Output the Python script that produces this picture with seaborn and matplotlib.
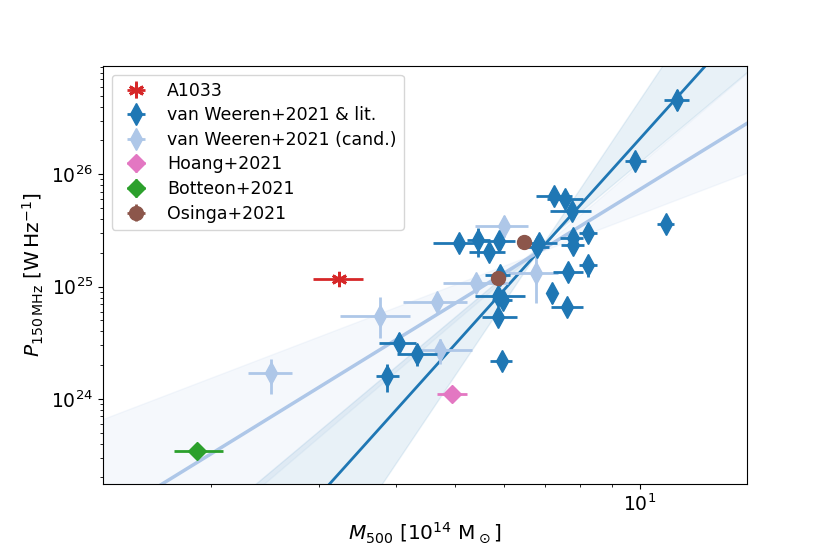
import numpy as np
import matplotlib
matplotlib.use("Agg")
import matplotlib.pyplot as plt
from matplotlib.ticker import NullFormatter
import seaborn as sns

# A1033 (this work)
a1033_m = [3.23]
a1033_m_lo = [2.93]
a1033_m_hi = [3.54]
a1033_p = [1.17e25]
a1033_p_lo = [1.12e25]
a1033_p_hi = [1.22e25]

# van Weeren+2021 & literature
vw_m = [11.48, 9.81, 7.25, 7.55, 7.74, 11.01, 5.08, 5.45, 5.89, 5.68, 6.86, 6.79, 7.79, 7.79,
        8.22, 8.22, 7.64, 5.92, 5.88, 5.99, 7.18, 7.61, 5.88, 5.96, 4.34, 4.05, 3.88]
vw_m_lo = [10.94, 9.45, 6.77, 7.05, 7.13, 10.65, 4.61, 5.22, 5.56, 5.27, 6.54, 6.50, 7.41, 7.45,
           7.96, 7.96, 7.22, 5.59, 5.39, 5.75, 7.10, 7.16, 5.52, 5.70, 4.02, 3.76, 3.72]
vw_m_hi = [12.02, 10.23, 7.74, 8.07, 8.31, 11.36, 5.49, 5.70, 6.26, 6.03, 7.32, 7.10, 8.09, 8.10,
           8.50, 8.50, 8.09, 6.14, 6.50, 6.20, 7.26, 8.09, 6.30, 6.18, 4.67, 4.31, 4.05]
vw_p = [4.57e26, 1.32e26, 6.41e25, 6.00e25, 4.75e25, 3.59e25, 2.47e25, 2.61e25, 2.55e25, 2.03e25,
        2.44e25, 2.24e25, 2.72e25, 2.35e25, 2.99e25, 1.56e25, 1.36e25, 1.27e25, 8.17e24, 7.63e24,
        8.75e24, 6.65e24, 5.42e24, 2.16e24, 2.53e24, 3.15e24, 1.61e24]
vw_p_lo = [3.73e26, 1.19e26, 5.33e25, 5.40e25, 4.20e25, 3.15e25, 2.25e25, 1.85e25, 2.20e25, 1.85e25,
           2.15e25, 2.00e25, 2.45e25, 2.10e25, 2.65e25, 1.21e25, 1.20e25, 1.12e25, 7.20e24, 6.80e24,
           7.18e24, 5.90e24, 4.60e24, 1.87e24, 1.98e24, 2.56e24, 1.15e24]
vw_p_hi = [5.61e26, 1.46e26, 7.76e25, 6.70e25, 5.35e25, 4.10e25, 2.75e25, 3.33e25, 2.90e25, 2.25e25,
           2.75e25, 2.50e25, 3.00e25, 2.60e25, 3.35e25, 1.85e25, 1.55e25, 1.42e25, 9.20e24, 8.50e24,
           1.04e25, 7.50e24, 6.30e24, 2.45e24, 3.07e24, 3.86e24, 2.06e24]

# van Weeren+2021 candidates
cand_m = [2.51, 3.77, 4.67, 5.40, 4.73, 6.00, 6.77]
cand_m_lo = [2.30, 3.25, 4.11, 4.78, 4.33, 5.39, 6.10]
cand_m_hi = [2.71, 4.22, 5.22, 6.10, 5.32, 6.56, 7.35]
cand_p = [1.72e24, 5.50e24, 7.28e24, 1.07e25, 2.74e24, 3.47e25, 1.32e25]
cand_p_lo = [1.11e24, 3.46e24, 6.60e24, 9.70e24, 2.06e24, 2.79e25, 7.18e24]
cand_p_hi = [2.28e24, 8.07e24, 8.00e24, 1.18e25, 3.44e24, 4.26e25, 1.92e25]

# Hoang+2021
hoang_m = [4.94]
hoang_m_lo = [4.67]
hoang_m_hi = [5.22]
hoang_p = [1.11e24]
hoang_p_lo = [1.05e24]
hoang_p_hi = [1.17e24]

# Botteon+2021
botteon_m = [1.90]
botteon_m_lo = [1.74]
botteon_m_hi = [2.09]
botteon_p = [3.47e23]
botteon_p_lo = [3.10e23]
botteon_p_hi = [3.90e23]

# Osinga+2021
osinga_m = [6.47, 5.87]
osinga_m_lo = [6.40, 5.80]
osinga_m_hi = [6.54, 5.94]
osinga_p = [2.49e25, 1.19e25]
osinga_p_lo = [2.40e25, 1.15e25]
osinga_p_hi = [2.58e25, 1.23e25]

# fits: log10(P) = norm + slope * log10(M / 6)
fit_slope = [6.08, 3.37]
fit_norm = [24.968, 25.118]
# band edges (two lines each)
band_dark_slope = [8.15, 4.58]
band_dark_norm = [24.851, 25.088]
band_light_slope = [2.09, 4.65]
band_light_norm = [25.180, 25.053]

M_PIVOT = 6.0


def asym(val, lo, hi):
    val = np.asarray(val)
    return [val - np.asarray(lo), np.asarray(hi) - val]


def draw_points(ax, m, m_lo, m_hi, p, p_lo, p_hi, **kw):
    ax.errorbar(m, p, xerr=asym(m, m_lo, m_hi), yerr=asym(p, p_lo, p_hi),
                ls='none', elinewidth=2, capsize=0, **kw)


fig = plt.figure(figsize=(8.3, 5.54), dpi=100)
ax = fig.add_axes([103 / 830, 1 - 484 / 554, 644 / 830, 418 / 554])
ax.set_xscale('log')
ax.set_yscale('log')

mgrid = np.logspace(np.log10(1.2), np.log10(17), 200)
lx = np.log10(mgrid / M_PIVOT)

# confidence bands
for slopes, norms, col in [(band_light_slope, band_light_norm, '#aec7e8'),
                           (band_dark_slope, band_dark_norm, 'tab:blue')]:
    l1 = 10 ** (norms[0] + slopes[0] * lx)
    l2 = 10 ** (norms[1] + slopes[1] * lx)
    ax.fill_between(mgrid, np.minimum(l1, l2), np.maximum(l1, l2),
                    color=col, alpha=0.1 if col == 'tab:blue' else 0.12, zorder=1)

# fit lines
for s, n, col, lw in zip(fit_slope, fit_norm, ['tab:blue', '#aec7e8'], [2, 2.5]):
    sns.lineplot(x=mgrid, y=10 ** (n + s * lx), color=col, lw=lw, ax=ax,
                 legend=False, zorder=2)

draw_points(ax, a1033_m, a1033_m_lo, a1033_m_hi, a1033_p, a1033_p_lo, a1033_p_hi,
            marker=(6, 2, 0), ms=11, mew=2, color='tab:red', label='A1033', zorder=5)
draw_points(ax, vw_m, vw_m_lo, vw_m_hi, vw_p, vw_p_lo, vw_p_hi,
            marker='d', ms=11, color='tab:blue', label='van Weeren+2021 & lit.', zorder=4)
draw_points(ax, cand_m, cand_m_lo, cand_m_hi, cand_p, cand_p_lo, cand_p_hi,
            marker='d', ms=11, color='#aec7e8', label='van Weeren+2021 (cand.)', zorder=3)
draw_points(ax, hoang_m, hoang_m_lo, hoang_m_hi, hoang_p, hoang_p_lo, hoang_p_hi,
            marker='D', ms=9, color='#e377c2', label='Hoang+2021', zorder=4)
draw_points(ax, botteon_m, botteon_m_lo, botteon_m_hi, botteon_p, botteon_p_lo, botteon_p_hi,
            marker='D', ms=9, color='tab:green', label='Botteon+2021', zorder=4)
draw_points(ax, osinga_m, osinga_m_lo, osinga_m_hi, osinga_p, osinga_p_lo, osinga_p_hi,
            marker='o', ms=10, color='tab:brown', label='Osinga+2021', zorder=6)

ax.set_xlim(1.335, 14.94)
ax.set_ylim(1.75e23, 9.2e26)
ax.xaxis.set_minor_formatter(NullFormatter())
ax.tick_params(labelsize=13.5)
ax.set_xlabel(r'$M_{500}$ [$10^{14}$ M$_\odot$]', fontsize=14.5)
ax.set_ylabel(r'$P_{\mathrm{150\,MHz}}$ [$\mathrm{W\,Hz^{-1}}$]', fontsize=14.5)
ax.legend(loc='upper left', fontsize=12.5, labelspacing=0.38)

fig.savefig('out.png', dpi=100)
